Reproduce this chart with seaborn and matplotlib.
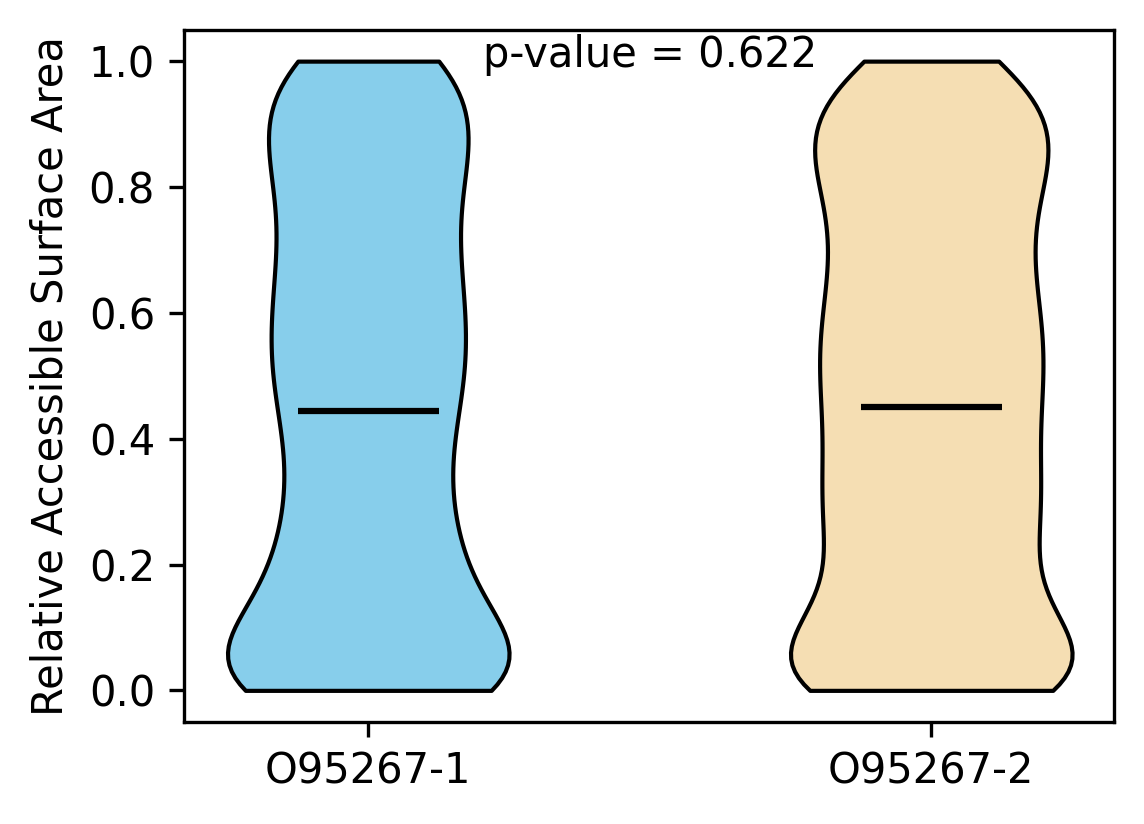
import numpy as np
import pandas as pd
import matplotlib
matplotlib.use("Agg")
import matplotlib.pyplot as plt
import seaborn as sns

# Relative solvent accessibility per residue, one list per isoform
labels = ["O95267-1", "O95267-2"]
colors = ["skyblue", "wheat"]
mean_rsa = [0.444, 0.451]   # mean lines as drawn in the figure
p_value = 0.622

rsa_iso1 = [
    0.0, 0.0, 0.0, 0.0, 0.0, 0.0, 0.0, 0.0, 0.0, 0.0, 0.0, 0.0, 0.0, 0.0, 0.0, 0.0, 0.0, 0.0,
    0.0, 0.0, 0.0,
    0.004, 0.011, 0.017, 0.024, 0.031, 0.038, 0.045,
    0.059, 0.061, 0.063, 0.065, 0.067, 0.069, 0.071, 0.073,
    0.053, 0.060, 0.068, 0.075, 0.082, 0.089, 0.096,
    0.103, 0.108, 0.114, 0.119, 0.125, 0.131, 0.136, 0.142, 0.147,
    0.153, 0.159, 0.166, 0.172, 0.178, 0.184, 0.191, 0.197,
    0.203, 0.209, 0.216, 0.222, 0.228, 0.234, 0.241, 0.247,
    0.254, 0.261, 0.268, 0.275, 0.282, 0.289, 0.296,
    0.304, 0.312, 0.321, 0.329, 0.337, 0.346,
    0.354, 0.361, 0.368, 0.375, 0.382, 0.389, 0.396,
    0.404, 0.411, 0.418, 0.425, 0.432, 0.439, 0.446,
    0.453, 0.459, 0.466, 0.472, 0.478, 0.484, 0.491, 0.497,
    0.503, 0.508, 0.514, 0.519, 0.525, 0.531, 0.536, 0.542, 0.547,
    0.553, 0.559, 0.566, 0.572, 0.578, 0.584, 0.591, 0.597,
    0.603, 0.609, 0.616, 0.622, 0.628, 0.634, 0.641, 0.647,
    0.653, 0.659, 0.666, 0.672, 0.678, 0.684, 0.691, 0.697,
    0.704, 0.711, 0.718, 0.725, 0.732, 0.739, 0.746,
    0.754, 0.761, 0.768, 0.775, 0.782, 0.789, 0.796,
    0.803, 0.809, 0.816, 0.822, 0.828, 0.834, 0.841, 0.847,
    0.852, 0.857, 0.862, 0.867, 0.872, 0.877, 0.882, 0.887, 0.892, 0.897,
    0.903, 0.909, 0.916, 0.922, 0.928, 0.934, 0.941, 0.947,
    0.954, 0.961, 0.968, 0.975, 0.982, 0.989, 0.996,
    1.0, 1.0, 1.0, 1.0, 1.0, 1.0, 1.0, 1.0,
]

rsa_iso2 = [
    0.0, 0.0, 0.0, 0.0, 0.0, 0.0, 0.0, 0.0, 0.0, 0.0, 0.0, 0.0, 0.0, 0.0, 0.0, 0.0, 0.0, 0.0,
    0.0, 0.0,
    0.004, 0.011, 0.018, 0.025, 0.032, 0.039, 0.046,
    0.058, 0.060, 0.062, 0.064, 0.066, 0.068, 0.070, 0.072, 0.074,
    0.053, 0.060, 0.067, 0.075, 0.082, 0.089, 0.096,
    0.102, 0.108, 0.113, 0.119, 0.124, 0.130, 0.136, 0.141, 0.147,
    0.153, 0.160, 0.166, 0.172, 0.178, 0.185, 0.191, 0.197,
    0.202, 0.208, 0.213, 0.219, 0.225, 0.230, 0.236, 0.242, 0.247,
    0.252, 0.257, 0.262, 0.267, 0.272, 0.277, 0.282, 0.287, 0.292, 0.297,
    0.302, 0.307, 0.312, 0.317, 0.322, 0.327, 0.332, 0.337, 0.342, 0.347,
    0.353, 0.358, 0.364, 0.369, 0.375, 0.381, 0.386, 0.392, 0.397,
    0.402, 0.408, 0.413, 0.419, 0.425, 0.431, 0.436, 0.442, 0.447,
    0.452, 0.457, 0.462, 0.467, 0.472, 0.477, 0.482, 0.487, 0.492, 0.497,
    0.503, 0.508, 0.513, 0.518, 0.523, 0.528, 0.533, 0.538, 0.543, 0.548,
    0.552, 0.557, 0.562, 0.567, 0.572, 0.577, 0.582, 0.587, 0.592, 0.597,
    0.603, 0.608, 0.614, 0.619, 0.625, 0.631, 0.636, 0.642, 0.647,
    0.652, 0.658, 0.664, 0.669, 0.675, 0.681, 0.686, 0.692, 0.697,
    0.703, 0.709, 0.716, 0.722, 0.728, 0.734, 0.741, 0.747,
    0.753, 0.758, 0.764, 0.769, 0.775, 0.781, 0.786, 0.792, 0.797,
    0.802, 0.807, 0.812, 0.817, 0.822, 0.827, 0.832, 0.837, 0.842, 0.847,
    0.852, 0.856, 0.860, 0.864, 0.868, 0.873, 0.877, 0.881, 0.885, 0.889, 0.893, 0.897,
    0.902, 0.907, 0.911, 0.916, 0.920, 0.925, 0.929, 0.934, 0.938, 0.943, 0.947,
    0.953, 0.959, 0.966, 0.972, 0.978, 0.984, 0.991, 0.997,
    1.0, 1.0, 1.0, 1.0,
]

df = pd.concat([
    pd.DataFrame({"isoform": labels[0], "rsa": rsa_iso1}),
    pd.DataFrame({"isoform": labels[1], "rsa": rsa_iso2}),
], ignore_index=True)

fig, ax = plt.subplots(figsize=(1144 / 300, 824 / 300), dpi=300)
fig.subplots_adjust(left=0.161, right=0.974, bottom=0.124, top=0.964)

sns.violinplot(
    data=df, x="isoform", y="rsa", hue="isoform", order=labels, hue_order=labels,
    palette=colors, saturation=1, cut=0, inner=None, width=0.5,
    density_norm="width", bw_adjust=0.7, linewidth=1, linecolor="black",
    legend=False, ax=ax,
)

# mean lines
for i, m in enumerate(mean_rsa):
    ax.hlines(m, i - 0.125, i + 0.125, color="black", linewidth=1.5)

ax.text(0.5, 0.99, f"p-value = {p_value}", ha="center", va="baseline", fontsize=10)

ax.set_xlim(-0.327, 1.325)
ax.set_ylim(-0.05, 1.05)
ax.set_xlabel("")
ax.set_ylabel("Relative Accessible Surface Area")

fig.savefig("out.png", dpi=300)
